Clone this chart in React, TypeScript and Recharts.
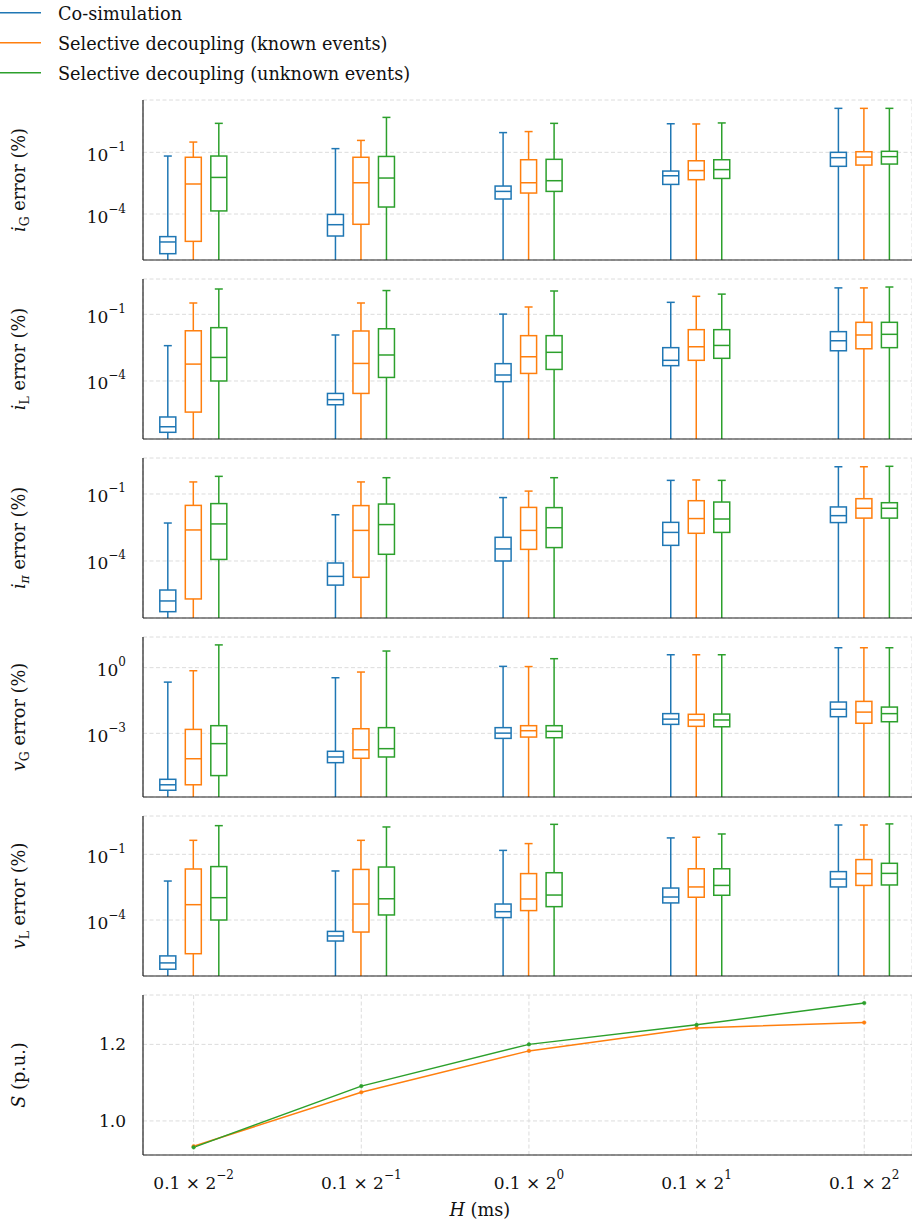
import React from 'react';
import { ComposedChart, Bar, Line, XAxis, YAxis, CartesianGrid } from 'recharts';

const COLORS = ['#1f77b4', '#ff7f0e', '#2ca02c'];
const SERIES_NAMES = [
  'Co-simulation',
  'Selective decoupling (known events)',
  'Selective decoupling (unknown events)',
];
const STEP_INDEX = [0, 1, 2, 3, 4];
const STEP_BASE = '0.1 × 2';
const STEP_EXPONENTS = ['−2', '−1', '0', '1', '2'];
const X_DOMAIN = [-0.302, 4.285];

// lower whiskers run below the visible range in every panel (log10 of value)
const WHISKER_LOW_LOG = [-9, -9, -9, -9, -9];

// log10 of [upper whisker, Q3, median, Q1] per step size
const IG_COSIM = [[-1.18, -5.10, -5.36, -5.93], [-0.82, -4.02, -4.52, -5.07], [-0.04, -2.64, -2.90, -3.27], [0.39, -1.91, -2.14, -2.56], [1.14, -1.00, -1.26, -1.68]];
const IG_KNOWN = [[-0.50, -1.24, -2.54, -5.33], [-0.42, -1.24, -2.48, -4.50], [0.01, -1.36, -2.48, -2.98], [0.38, -1.41, -1.89, -2.33], [1.14, -0.97, -1.23, -1.62]];
const IG_UNKNOWN = [[0.41, -1.18, -2.22, -3.85], [0.70, -1.20, -2.25, -3.66], [0.41, -1.34, -2.38, -2.90], [0.43, -1.36, -1.84, -2.27], [1.14, -0.95, -1.21, -1.57]];

const IL_COSIM = [[-2.41, -5.62, -6.06, -6.31], [-1.93, -4.56, -4.84, -5.07], [-0.99, -3.22, -3.73, -4.03], [-0.46, -2.50, -3.07, -3.31], [0.19, -1.78, -2.19, -2.64]];
const IL_KNOWN = [[-0.49, -1.74, -3.24, -5.40], [-0.49, -1.75, -3.21, -4.56], [-0.67, -1.96, -2.91, -3.66], [-0.19, -1.69, -2.46, -3.07], [0.19, -1.36, -1.93, -2.55]];
const IL_UNKNOWN = [[0.14, -1.60, -2.94, -4.00], [0.07, -1.65, -2.83, -3.84], [0.05, -1.96, -2.71, -3.48], [-0.09, -1.69, -2.40, -2.98], [0.23, -1.36, -1.90, -2.50]];

const IPI_COSIM = [[-2.30, -5.30, -5.79, -6.27], [-1.93, -4.09, -4.69, -5.08], [-1.16, -2.94, -3.46, -4.00], [-0.39, -2.27, -2.72, -3.30], [0.22, -1.58, -1.97, -2.28]];
const IPI_KNOWN = [[-0.46, -1.51, -2.61, -5.70], [-0.46, -1.52, -2.63, -4.73], [-0.87, -1.60, -2.63, -3.48], [-0.37, -1.30, -2.10, -2.76], [0.22, -1.21, -1.64, -2.08]];
const IPI_UNKNOWN = [[-0.21, -1.43, -2.34, -3.93], [-0.27, -1.45, -2.37, -3.70], [-0.27, -1.61, -2.51, -3.40], [-0.39, -1.36, -2.12, -2.72], [0.24, -1.39, -1.64, -2.08]];

const VG_COSIM = [[-0.66, -5.10, -5.35, -5.60], [-0.46, -3.82, -4.08, -4.34], [0.06, -2.74, -2.99, -3.23], [0.59, -2.10, -2.35, -2.59], [0.91, -1.57, -1.90, -2.24]];
const VG_KNOWN = [[-0.14, -2.82, -4.16, -5.35], [-0.20, -2.79, -3.75, -4.14], [0.05, -2.65, -2.88, -3.17], [0.59, -2.13, -2.39, -2.68], [0.91, -1.54, -2.03, -2.54]];
const VG_UNKNOWN = [[1.04, -2.65, -3.47, -4.93], [0.76, -2.74, -3.70, -4.08], [0.41, -2.65, -2.91, -3.20], [0.59, -2.12, -2.39, -2.70], [0.91, -1.80, -2.10, -2.47]];

const VL_COSIM = [[-2.22, -5.64, -5.96, -6.25], [-1.76, -4.52, -4.73, -4.96], [-0.82, -3.27, -3.62, -3.89], [-0.25, -2.54, -2.95, -3.22], [0.34, -1.79, -2.13, -2.49]];
const VL_KNOWN = [[-0.36, -1.67, -3.30, -5.54], [-0.36, -1.69, -3.27, -4.55], [-0.51, -1.88, -3.04, -3.57], [-0.22, -1.66, -2.49, -2.96], [0.34, -1.24, -1.88, -2.42]];
const VL_UNKNOWN = [[0.31, -1.56, -2.98, -4.00], [0.25, -1.58, -3.03, -3.77], [0.37, -1.84, -2.86, -3.39], [-0.07, -1.66, -2.42, -2.87], [0.39, -1.41, -1.87, -2.40]];

const TICKS_A = [1e-4, 1e-1];
const TICKS_B = [1e-3, 1e0];

const SPEEDUP_KNOWN = [0.934, 1.075, 1.183, 1.243, 1.257];
const SPEEDUP_UNKNOWN = [0.931, 1.091, 1.200, 1.251, 1.308];
const SPEEDUP_TICKS = [1.0, 1.2];
const SPEEDUP_DOMAIN = [0.911, 1.329];

const PANELS = [
  { sym: 'i', sub: 'G', subItalic: false, stats: [IG_COSIM, IG_KNOWN, IG_UNKNOWN], domainLog: [-6.237, 1.546], ticks: TICKS_A },
  { sym: 'i', sub: 'L', subItalic: false, stats: [IL_COSIM, IL_KNOWN, IL_UNKNOWN], domainLog: [-6.611, 0.59], ticks: TICKS_A },
  { sym: 'i', sub: 'π', subItalic: true, stats: [IPI_COSIM, IPI_KNOWN, IPI_UNKNOWN], domainLog: [-6.553, 0.612], ticks: TICKS_A },
  { sym: 'v', sub: 'G', subItalic: false, stats: [VG_COSIM, VG_KNOWN, VG_UNKNOWN], domainLog: [-5.908, 1.401], ticks: TICKS_B },
  { sym: 'v', sub: 'L', subItalic: false, stats: [VL_COSIM, VL_KNOWN, VL_UNKNOWN], domainLog: [-6.558, 0.751], ticks: TICKS_A },
];

const FONT = '"DejaVu Serif", serif';
const TEXT = '#111';
const GRID = '#dcdcdc';
const AXIS = { stroke: '#222', strokeWidth: 1.2 };
const FONT_SIZE = 17;
const LABEL_SIZE = 17.7;

function buildRows(stats: number[][][]) {
  return STEP_INDEX.map((x, c) => {
    const row: any = { x };
    stats.forEach((s, k) => {
      const [hi, q3, med, q1] = s[c].map((v) => Math.pow(10, v));
      row['w' + k] = [Math.pow(10, WHISKER_LOW_LOG[c]), hi];
      row['b' + k] = [q1, q3];
      row['m' + k] = [med, med];
    });
    return row;
  });
}

const speedRows = STEP_INDEX.map((x, i) => ({ x, known: SPEEDUP_KNOWN[i], unknown: SPEEDUP_UNKNOWN[i] }));

const makeWhisker = (color: string) => (p: any) => {
  const { x, y, width, height } = p;
  if (x == null || y == null) return <g />;
  const cx = x + width / 2;
  const top = Math.min(y, y + height);
  const bot = Math.max(y, y + height);
  return (
    <g>
      <line x1={cx} x2={cx} y1={top} y2={bot} stroke={color} strokeWidth={1.5} />
      <line x1={cx - width / 4} x2={cx + width / 4} y1={top} y2={top} stroke={color} strokeWidth={1.5} />
    </g>
  );
};

const makeBox = (color: string) => (p: any) => {
  const { x, y, width, height } = p;
  if (x == null || y == null) return <g />;
  return (
    <rect x={x} y={Math.min(y, y + height)} width={width} height={Math.abs(height)} fill="#fff" stroke={color} strokeWidth={1.5} />
  );
};

const makeMedian = (color: string) => (p: any) => {
  const { x, y, width } = p;
  if (x == null || y == null) return <g />;
  return <line x1={x} x2={x + width} y1={y} y2={y} stroke={color} strokeWidth={1.5} />;
};

const PowTick = (props: any) => {
  const { x, y, payload } = props;
  const e = Math.round(Math.log10(payload.value));
  const es = e < 0 ? '−' + -e : String(e);
  return (
    <text x={x} y={y + 8.5} textAnchor="end" fontFamily={FONT} fontSize={FONT_SIZE} fill={TEXT}>
      10<tspan dy={-10} fontSize={12}>{es}</tspan>
    </text>
  );
};

const PlainTick = (props: any) => {
  const { x, y, payload } = props;
  return (
    <text x={x} y={y + 6} textAnchor="end" fontFamily={FONT} fontSize={FONT_SIZE} fill={TEXT}>
      {payload.value.toFixed(1)}
    </text>
  );
};

const StepTick = (props: any) => {
  const { x, y, payload } = props;
  return (
    <text x={x} y={y + 34} textAnchor="middle" fontFamily={FONT} fontSize={FONT_SIZE} fill={TEXT}>
      {STEP_BASE}
      <tspan dy={-10} fontSize={12}>{STEP_EXPONENTS[payload.value]}</tspan>
    </text>
  );
};

const YLabel = (props: any) => {
  const { viewBox, sym, sub, subItalic, rest } = props;
  const cx = (viewBox?.x ?? 0) + 25;
  const cy = (viewBox?.y ?? 0) + (viewBox?.height ?? 0) / 2;
  return (
    <text x={cx} y={cy} transform={`rotate(-90, ${cx}, ${cy})`} textAnchor="middle" fontFamily={FONT} fontSize={LABEL_SIZE} fill={TEXT}>
      <tspan fontStyle="italic">{sym}</tspan>
      {sub ? (
        <tspan dy={4} fontSize={12.5} fontStyle={subItalic ? 'italic' : 'normal'}>{sub}</tspan>
      ) : null}
      <tspan dy={sub ? -4 : 0}>{rest}</tspan>
    </text>
  );
};

const XLabel = (props: any) => {
  const { viewBox } = props;
  const x = (viewBox?.x ?? 0) + (viewBox?.width ?? 0) * 0.438;
  const y = (viewBox?.y ?? 0) + 61;
  return (
    <text x={x} y={y} textAnchor="middle" fontFamily={FONT} fontSize={LABEL_SIZE} fill={TEXT}>
      <tspan fontStyle="italic">H</tspan> (ms)
    </text>
  );
};

const BoxPanel = ({ panel, index }: any) => {
  const rows = buildRows(panel.stats);
  const top = 100 + 179 * index;
  const domain = [Math.pow(10, panel.domainLog[0]), Math.pow(10, panel.domainLog[1])];
  return (
    <div style={{ position: 'absolute', left: 0, top: top - 10 }}>
      <ComposedChart width={912} height={180} data={rows} margin={{ top: 10, right: 0, bottom: 9, left: 0 }} barSize={16} barGap={9.5}>
        <CartesianGrid stroke={GRID} strokeDasharray="4 2.5" />
        <XAxis xAxisId="w" type="number" dataKey="x" domain={X_DOMAIN} ticks={STEP_INDEX} allowDataOverflow hide />
        <XAxis xAxisId="m" type="number" dataKey="x" domain={X_DOMAIN} ticks={STEP_INDEX} allowDataOverflow hide />
        <XAxis type="number" dataKey="x" domain={X_DOMAIN} ticks={STEP_INDEX} allowDataOverflow height={1} tick={false} tickLine={false} axisLine={AXIS} />
        <YAxis
          type="number"
          scale="log"
          domain={domain}
          allowDataOverflow
          ticks={panel.ticks}
          width={143}
          tickLine={false}
          tickSize={0}
          tickMargin={17}
          tick={<PowTick />}
          axisLine={AXIS}
          label={<YLabel sym={panel.sym} sub={panel.sub} subItalic={panel.subItalic} rest=" error (%)" />}
        />
        {COLORS.map((c, k) => (
          <Bar key={'w' + k} xAxisId="w" dataKey={'w' + k} shape={makeWhisker(c)} isAnimationActive={false} />
        ))}
        {COLORS.map((c, k) => (
          <Bar key={'b' + k} dataKey={'b' + k} shape={makeBox(c)} isAnimationActive={false} />
        ))}
        {COLORS.map((c, k) => (
          <Bar key={'m' + k} xAxisId="m" dataKey={'m' + k} shape={makeMedian(c)} isAnimationActive={false} />
        ))}
      </ComposedChart>
    </div>
  );
};

const SpeedPanel = () => (
  <div style={{ position: 'absolute', left: 0, top: 985 }}>
    <ComposedChart width={912} height={240} data={speedRows} margin={{ top: 10, right: 0, bottom: 0, left: 0 }}>
      <CartesianGrid stroke={GRID} strokeDasharray="4 2.5" />
      <XAxis
        type="number"
        dataKey="x"
        domain={X_DOMAIN}
        ticks={STEP_INDEX}
        allowDataOverflow
        height={70}
        tickLine={false}
        tickSize={0}
        tickMargin={0}
        tick={<StepTick />}
        axisLine={AXIS}
        label={<XLabel />}
      />
      <YAxis
        type="number"
        domain={SPEEDUP_DOMAIN}
        allowDataOverflow
        ticks={SPEEDUP_TICKS}
        width={143}
        tickLine={false}
        tickSize={0}
        tickMargin={17}
        tick={<PlainTick />}
        axisLine={AXIS}
        label={<YLabel sym="S" sub="" subItalic={false} rest=" (p.u.)" />}
      />
      <Line dataKey="known" stroke={COLORS[1]} strokeWidth={1.5} dot={{ r: 1.8, fill: COLORS[1], stroke: COLORS[1], strokeWidth: 0.5 }} isAnimationActive={false} />
      <Line dataKey="unknown" stroke={COLORS[2]} strokeWidth={1.5} dot={{ r: 1.8, fill: COLORS[2], stroke: COLORS[2], strokeWidth: 0.5 }} isAnimationActive={false} />
    </ComposedChart>
  </div>
);

const LegendBlock = () => (
  <svg width={460} height={90} style={{ position: 'absolute', left: 0, top: 0 }}>
    {SERIES_NAMES.map((n, i) => (
      <g key={n}>
        <line x1={0} x2={41} y1={12.7 + 30 * i} y2={12.7 + 30 * i} stroke={COLORS[i]} strokeWidth={1.5} />
        <text x={58} y={19.5 + 30 * i} fontFamily={FONT} fontSize={LABEL_SIZE} fill={TEXT}>{n}</text>
      </g>
    ))}
  </svg>
);

export default function App() {
  return (
    <div style={{ position: 'relative', width: 912, height: 1226, background: '#fff', overflow: 'hidden' }}>
      <style>{'body{margin:0;}'}</style>
      <LegendBlock />
      {PANELS.map((p, i) => (
        <BoxPanel key={i} panel={p} index={i} />
      ))}
      <SpeedPanel />
    </div>
  );
}
